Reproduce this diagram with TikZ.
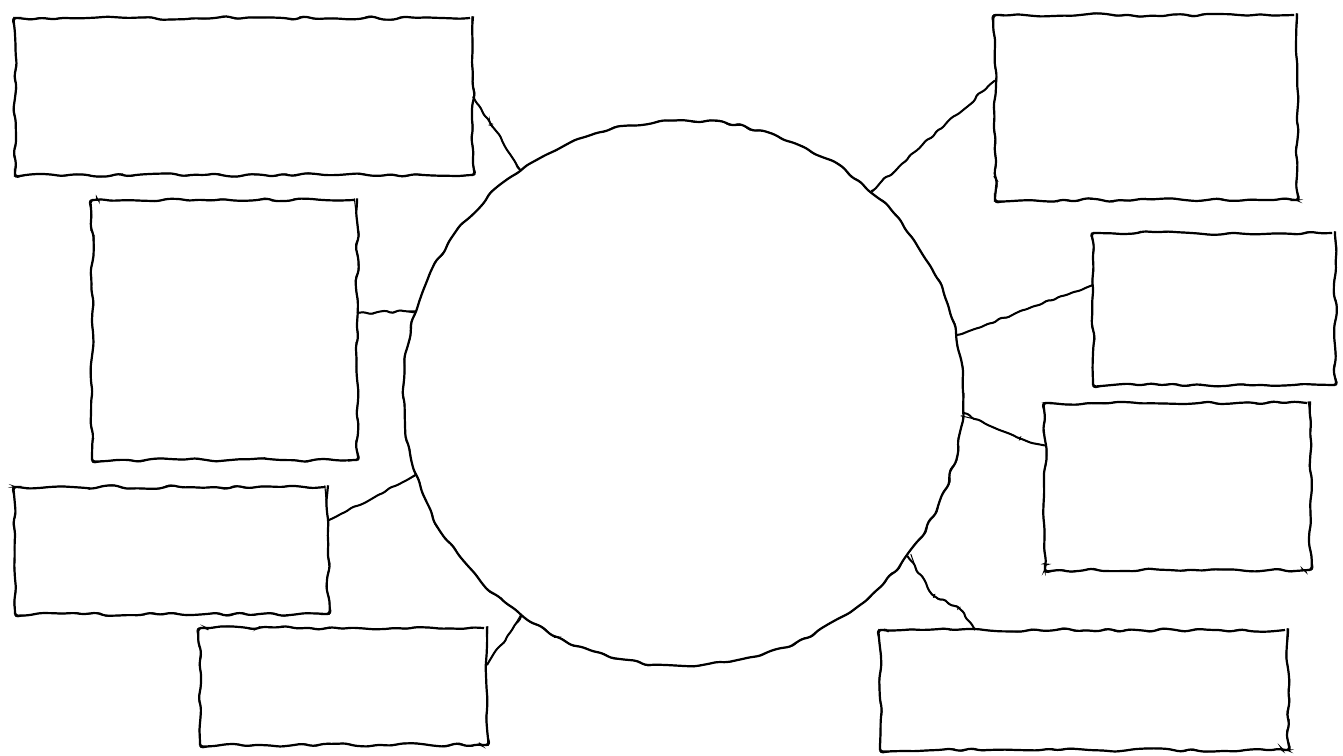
\documentclass[tikz,border=0pt]{standalone}
\usetikzlibrary{shapes.geometric,decorations.pathmorphing,calc}
\begin{document}
\pgfmathsetseed{7}
\begin{tikzpicture}[x=1pt,y=-1pt,
  sketch/.style={draw=black, line width=2.2pt, rounded corners=3pt,
    decorate, decoration={random steps, segment length=11pt, amplitude=1.8pt},
    postaction={draw=black, line width=1.1pt, rounded corners=3pt, decorate,
      decoration={random steps, segment length=15pt, amplitude=2.8pt}}},
  box/.style={sketch, rectangle, inner sep=0pt, outer sep=0pt},
  conn/.style={draw=black, line width=2pt, rounded corners=1.5pt,
    decorate, decoration={random steps, segment length=7pt, amplitude=1.5pt},
    postaction={draw=black, line width=1pt, decorate,
      decoration={random steps, segment length=9pt, amplitude=2pt}}}]
\fill[white] (0,0) rectangle (1343,755);
\useasboundingbox (0,0) rectangle (1343,755);

% central circle
\node[sketch, ellipse, minimum width=560pt, minimum height=545pt, inner sep=0pt, outer sep=0pt] (c) at (683,393) {};

% boxes
\node[box, minimum width=458pt, minimum height=157pt] (r1) at (244,96.5) {};
\node[box, minimum width=265pt, minimum height=260pt] (r2) at (224.5,330) {};
\node[box, minimum width=313pt, minimum height=127pt] (r3) at (171.5,550.5) {};
\node[box, minimum width=287pt, minimum height=117pt] (r4) at (343.5,686.5) {};
\node[box, minimum width=302pt, minimum height=185pt] (r5) at (1146,107.5) {};
\node[box, minimum width=242pt, minimum height=152pt] (r6) at (1214,309) {};
\node[box, minimum width=265pt, minimum height=167pt] (r7) at (1177.5,486.5) {};
\node[box, minimum width=408pt, minimum height=120pt] (r8) at (1084,690) {};

% connectors
\draw[conn] (r1.east) -- ($(r1.east)+(18,28)$) -- (c.126.9);
\draw[conn] ($(r2.east)+(0,-17)$) -- (c.163.5);
\draw[conn] ($(r3.east)+(0,-30)$) -- (c.197.7);
\draw[conn] ($(r4.east)+(0,-21.5)$) -- (c.234.1);
\draw[conn] ($(r5.west)+(0,-27)$) -- (c.47.4);
\draw[conn] ($(r6.west)+(0,-24)$) -- (c.12.2);
\draw[conn] ($(r7.west)+(0,-41)$) -- ($(r7.west)+(-25,-48)$) -- (c.-4.5);
\draw[conn] ($(r8.north)+(-109,0)$) -- ($(r8.north)+(-125,-22)$) -- ($(r8.north)+(-150,-34)$) -- (c.-36.6);
\end{tikzpicture}
\end{document}
